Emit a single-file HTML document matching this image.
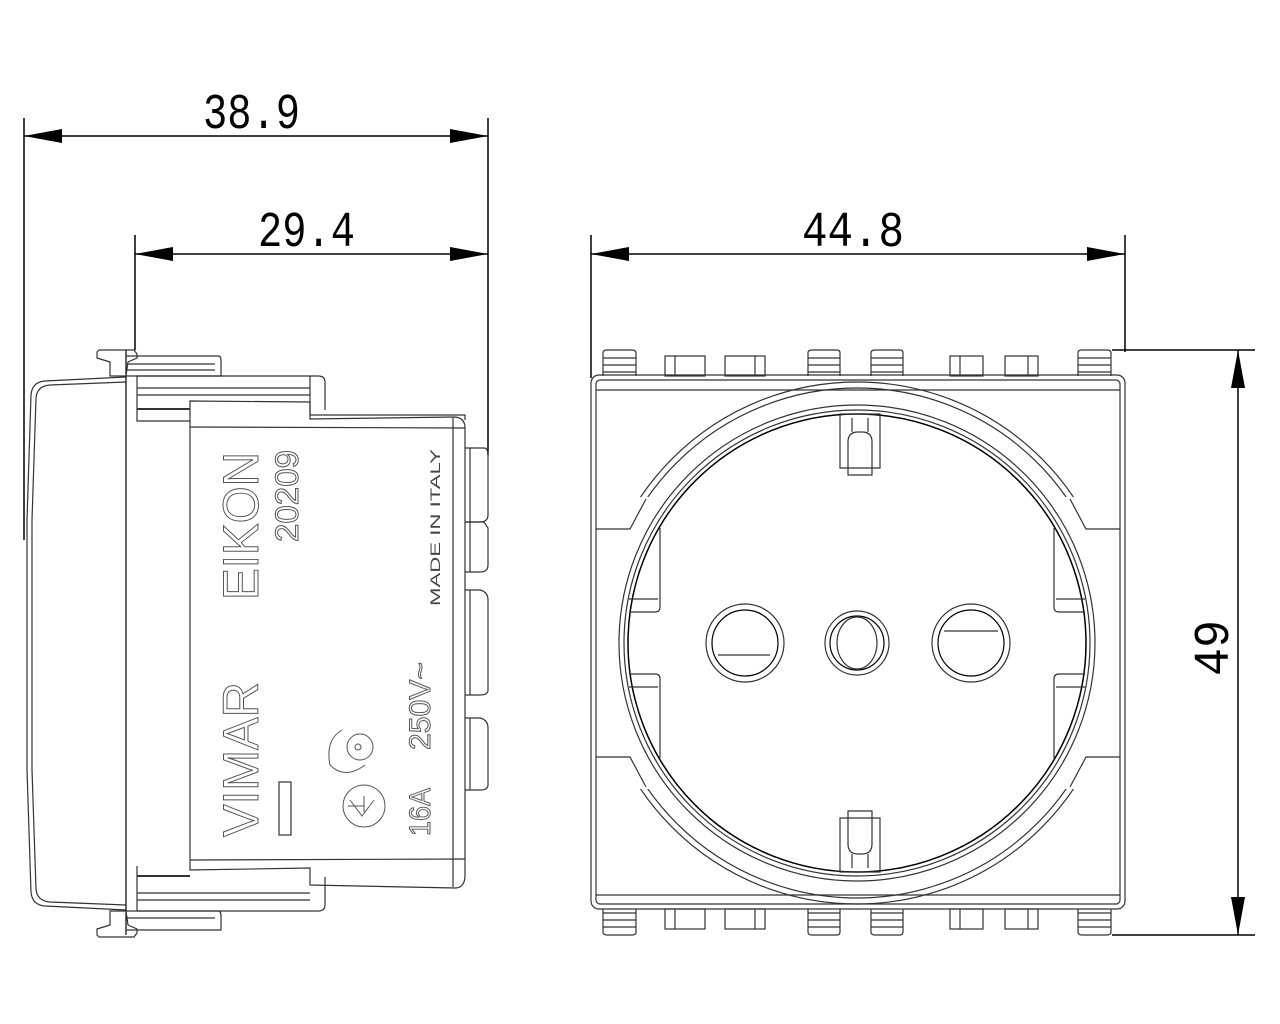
<!DOCTYPE html>
<html><head><meta charset="utf-8"><style>
html,body{margin:0;padding:0;background:#fff;}
svg{display:block;}
.d{font-family:"Liberation Mono",monospace;font-size:50px;fill:#000;}
</style></head><body>
<svg width="1280" height="1024" viewBox="0 0 1280 1024" xmlns="http://www.w3.org/2000/svg">
<defs>
<clipPath id="ct"><rect x="591" y="375" width="534" height="122"/><rect x="591" y="789" width="534" height="122"/></clipPath>
</defs>
<g stroke="#000" stroke-width="1.5" fill="none">
<line x1="24" y1="118" x2="24" y2="540"/>
<line x1="488" y1="118" x2="488" y2="455"/>
<line x1="24" y1="136" x2="488" y2="136"/>
<line x1="135" y1="235" x2="135" y2="350"/>
<line x1="135" y1="254" x2="488" y2="254"/>
<line x1="591" y1="235" x2="591" y2="378"/>
<line x1="1125" y1="235" x2="1125" y2="352"/>
<line x1="591" y1="254" x2="1125" y2="254"/>
<line x1="1112" y1="350" x2="1255" y2="350"/>
<line x1="1112" y1="935" x2="1255" y2="935"/>
<line x1="1238" y1="350" x2="1238" y2="935"/>
</g>
<g fill="#000">
<polygon points="24,136 62,129 62,143"/><polygon points="488,136 450,129 450,143"/>
<polygon points="135,254 173,247 173,261"/><polygon points="488,254 450,247 450,261"/>
<polygon points="591,254 629,247 629,261"/><polygon points="1125,254 1087,247 1087,261"/>
<polygon points="1238,350 1231,388 1245,388"/><polygon points="1238,935 1231,897 1245,897"/>
</g>
<text class="d" x="203" y="128" textLength="97" lengthAdjust="spacingAndGlyphs">38.9</text>
<text class="d" x="258" y="246" textLength="97" lengthAdjust="spacingAndGlyphs">29.4</text>
<text class="d" x="802" y="246" textLength="102" lengthAdjust="spacingAndGlyphs">44.8</text>
<text class="d" transform="translate(1228,676) rotate(-90)" textLength="56" lengthAdjust="spacingAndGlyphs">49</text>

<!-- SIDE VIEW -->
<g stroke="#333" stroke-width="1.2" fill="none">
<path d="M126,377 L45,381 Q32,382 31,395 L27,520 L27,770 L31,892 Q32,905 45,906 L126,910"/>
<path d="M126,382 L50,385 Q37,386 36,398 L32,520 L32,770 L36,889 Q37,901 50,902 L126,905"/>
<line x1="126" y1="350" x2="126" y2="935" stroke="#000"/>
<path d="M97,352 L99,350 L134,350 L137,354 L137,358 L128,362 L126,376 L110,376 L110,362 L97,358 Z"/>
<path d="M126,356 L218,356 Q221,356 221,360 L221,376 L126,376"/>
<line x1="126" y1="364" x2="215" y2="364"/>
<line x1="126" y1="370" x2="215" y2="370"/>
<path d="M137,376 L318,376 Q325,376 325,382 L325,410"/>
<path d="M137,376 L137,421 L190,421"/>
<line x1="137" y1="388" x2="310" y2="388"/>
<line x1="137" y1="395" x2="310" y2="395"/>
<line x1="137" y1="409" x2="190" y2="409" stroke-width="2"/>
<path d="M310,376 Q310,395 310,415 L465,415 Q465,415 465,420"/>
<path d="M190,401 L310,402 L310,419 L455,417 Q465,418 465,428 L465,875 Q465,888 455,888 L310,885 L310,868 L190,870 Z"/>
<line x1="190" y1="427" x2="465" y2="428"/>
<line x1="453" y1="418" x2="453" y2="887"/>
<line x1="190" y1="860" x2="465" y2="859"/>
<path d="M137,866 L137,911 L318,911 Q325,911 325,905 L325,877"/>
<line x1="137" y1="876" x2="190" y2="876" stroke-width="2"/>
<line x1="137" y1="893" x2="310" y2="893"/>
<line x1="137" y1="900" x2="310" y2="900"/>
<path d="M126,911 L218,911 Q221,911 221,916 L221,930 L126,930"/>
<line x1="126" y1="918" x2="215" y2="918"/>
<path d="M97,935 L99,937 L134,937 L137,933 L137,929 L128,925 L126,911 L110,911 L110,925 L97,929 Z"/>
<path d="M465,448 L484,448 Q488,448 488,455 L488,515 Q488,522 480,522 L465,522"/>
<path d="M465,522 L484,522 L488,528 L488,565 Q488,572 480,572 L465,572"/>
<path d="M465,590 L480,590 Q488,592 488,600 L488,690 Q488,695 480,695 L465,695"/>
<path d="M465,718 L480,718 Q488,720 488,728 L488,785 Q488,790 480,790 L465,790"/>
<line x1="470" y1="448" x2="470" y2="572"/>
<line x1="470" y1="590" x2="470" y2="695"/>
<line x1="470" y1="718" x2="470" y2="790"/>
<rect x="279" y="782" width="12" height="53"/>
</g>
<g fill="none" stroke="#555" stroke-width="1" font-family="Liberation Sans, sans-serif">
<text transform="translate(258,600) rotate(-90)" font-size="50" textLength="148" lengthAdjust="spacingAndGlyphs">EIKON</text>
<text transform="translate(298,542) rotate(-90)" font-size="32" textLength="92" lengthAdjust="spacingAndGlyphs">20209</text>
<text transform="translate(258,837) rotate(-90)" font-size="50" textLength="155" lengthAdjust="spacingAndGlyphs">VIMAR</text>
<text transform="translate(430,750) rotate(-90)" font-size="30" textLength="88" lengthAdjust="spacingAndGlyphs">250V~</text>
<text transform="translate(430,836) rotate(-90)" font-size="30" textLength="48" lengthAdjust="spacingAndGlyphs">16A</text>
</g>
<text transform="translate(440,606) rotate(-90)" font-family="Liberation Sans, sans-serif" font-size="14" fill="#444" textLength="157" lengthAdjust="spacingAndGlyphs">MADE IN ITALY</text>
<g stroke="#555" stroke-width="1" fill="none">
<circle cx="364" cy="806" r="21"/>
<path d="M350,800 L362,816 L374,800 M364,806 L348,806 M364,812 L364,796"/>
<path d="M342,730 Q325,740 330,765 Q345,780 365,765"/>
<circle cx="360" cy="747" r="13"/><circle cx="358" cy="747" r="3"/>
</g>

<!-- FRONT VIEW -->
<g stroke="#333" stroke-width="1.2" fill="none">
<rect x="591" y="375" width="534" height="534" rx="8"/>
<rect x="596" y="380" width="524" height="524" rx="4"/>
<line x1="596" y1="390" x2="1120" y2="390"/>
<line x1="596" y1="895" x2="1120" y2="895"/>
<g id="tt">
<path d="M603,376 L603,353 Q603,350 607,350 L632,350 Q636,350 636,353 L636,376"/>
<line x1="603" y1="358" x2="636" y2="358"/><line x1="603" y1="365" x2="636" y2="365"/><line x1="603" y1="372" x2="636" y2="372"/>
<path d="M808,376 L808,353 Q808,350 812,350 L837,350 Q840,350 840,353 L840,376"/>
<line x1="808" y1="358" x2="840" y2="358"/><line x1="808" y1="365" x2="840" y2="365"/><line x1="808" y1="372" x2="840" y2="372"/>
<path d="M871,376 L871,353 Q871,350 875,350 L900,350 Q903,350 903,353 L903,376"/>
<line x1="871" y1="358" x2="903" y2="358"/><line x1="871" y1="365" x2="903" y2="365"/><line x1="871" y1="372" x2="903" y2="372"/>
<path d="M1078,376 L1078,353 Q1078,350 1082,350 L1107,350 Q1111,350 1111,353 L1111,376"/>
<line x1="1078" y1="358" x2="1111" y2="358"/><line x1="1078" y1="365" x2="1111" y2="365"/><line x1="1078" y1="372" x2="1111" y2="372"/>
<rect x="665" y="356" width="40" height="20"/><line x1="675" y1="356" x2="675" y2="376"/>
<rect x="725" y="356" width="40" height="20"/><line x1="755" y1="356" x2="755" y2="376"/>
<rect x="950" y="356" width="33" height="20"/><line x1="960" y1="356" x2="960" y2="376"/>
<rect x="1005" y="356" width="33" height="20"/><line x1="1028" y1="356" x2="1028" y2="376"/>
</g>
<use href="#tt" transform="translate(0,1285) scale(1,-1)"/>
<g clip-path="url(#ct)">
<circle cx="857" cy="643" r="261"/><circle cx="857" cy="643" r="255"/>
</g>
<path d="M596,529 L630,529 L646,499 M1120,529 L1086,529 L1070,499"/>
<path d="M596,757 L630,757 L646,787 M1120,757 L1086,757 L1070,787"/>
<circle cx="857" cy="643" r="238"/>
<circle cx="857" cy="643" r="233"/>
<circle cx="857" cy="643" r="229" stroke="#000" stroke-width="1.5"/>
<path d="M629,612 L655,612 Q660,612 660,607 L660,528"/><path d="M629,674 L655,674 Q660,674 660,679 L660,758"/>
<path d="M1085,612 L1059,612 Q1054,612 1054,607 L1054,528"/><path d="M1085,674 L1059,674 Q1054,674 1054,679 L1054,758"/>
<line x1="629" y1="599" x2="658" y2="599"/><line x1="629" y1="687" x2="658" y2="687"/>
<line x1="1085" y1="599" x2="1056" y2="599"/><line x1="1085" y1="687" x2="1056" y2="687"/>
<circle cx="745" cy="643" r="39"/><circle cx="745" cy="643" r="33" stroke="#000"/><line x1="718" y1="655" x2="770" y2="655"/>
<circle cx="857" cy="643" r="32"/><circle cx="857" cy="643" r="27" stroke="#000"/><ellipse cx="857" cy="643" rx="20" ry="26"/>
<circle cx="971" cy="643" r="39"/><circle cx="971" cy="643" r="33" stroke="#000"/><line x1="944" y1="631" x2="998" y2="631"/>
<g id="ec">
<path d="M840,414 L840,468 L880,468 L880,414 Z"/>
<path d="M848,475 L848,442 Q848,432 858,432 L862,432 Q872,432 872,442 L872,475 Z"/>
<line x1="852" y1="418" x2="852" y2="432"/><line x1="868" y1="418" x2="868" y2="432"/>
</g>
<use href="#ec" transform="translate(0,1286) scale(1,-1)"/>
</g>
</svg>
</body></html>
